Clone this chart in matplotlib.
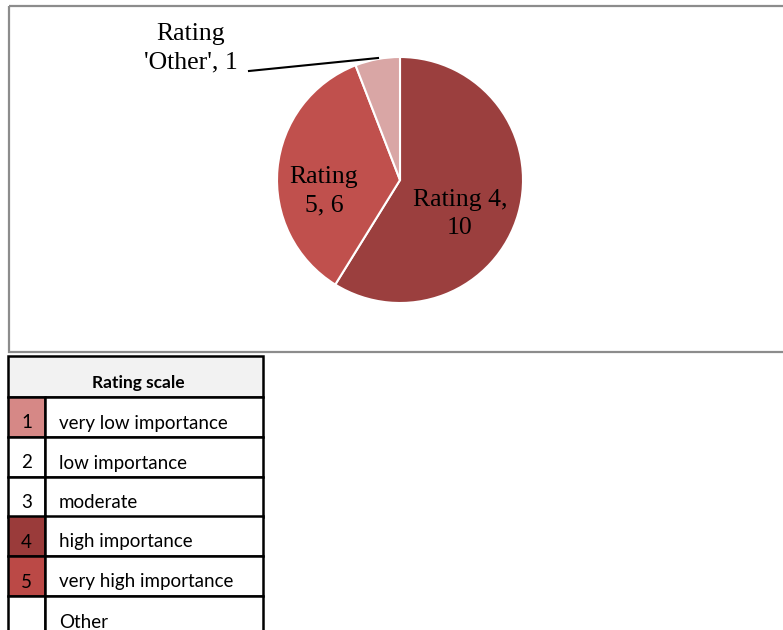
import matplotlib.pyplot as plt
from matplotlib.patches import Rectangle

# pie data
labels = ["Rating 4,\n10", "Rating\n5, 6", "Rating\n'Other', 1"]
values = [10, 6, 1]
colors = ["#9B3F3E", "#C0504D", "#D9A6A5"]

# rating scale table
scale_nums = ["1", "2", "3", "4", "5", ""]
scale_text = ["very low importance", "low importance", "moderate",
              "high importance", "very high importance", "Other"]
scale_fill = ["#D68886", "white", "white", "#9A3B3A", "#BB4946", "white"]

W, H = 783, 630
fig = plt.figure(figsize=(W / 100, H / 100), dpi=100)

# background axes in pixel coordinates
bg = fig.add_axes([0, 0, 1, 1])
bg.set_xlim(0, W)
bg.set_ylim(H, 0)
bg.axis("off")

# chart frame
bg.add_patch(Rectangle((9, 6), 790, 346, fill=False, edgecolor="#8C8C8C", lw=1.6))

# table
x0, x1, x2 = 8, 45, 263
bg.add_patch(Rectangle((x0, 356), x2 - x0, 41, facecolor="#F2F2F2", edgecolor="black", lw=1.8))
bg.text((x0 + x2) / 2 + 3, 383, "Rating scale", ha="center", va="center",
        fontsize=12.5, fontweight="bold", family="Lato")
tops = [397, 437, 477, 516, 556, 596]
for i, top in enumerate(tops):
    h = 40 if i < 5 else 50
    bg.add_patch(Rectangle((x0, top), x1 - x0, h, facecolor=scale_fill[i], edgecolor="black", lw=1.8))
    bg.add_patch(Rectangle((x1, top), x2 - x1, h, facecolor="white", edgecolor="black", lw=1.8))
    bg.text((x0 + x1) / 2, top + 26, scale_nums[i], ha="center", va="center", fontsize=13.5, family="Lato")
    bg.text(x1 + 14, top + 26, scale_text[i], ha="left", va="center", fontsize=13.5, family="Lato")

# pie
cx, cy, r = 400, 180, 123
ax = fig.add_axes([(cx - r) / W, (H - cy - r) / H, 2 * r / W, 2 * r / H])
ax.pie(values, colors=colors, startangle=90, counterclock=False, radius=1,
       wedgeprops=dict(edgecolor="white", linewidth=1.5))
ax.set_xlim(-1, 1)
ax.set_ylim(-1, 1)
ax.set_aspect("equal")
ax.axis("off")

def px(x, y):
    return ((x - cx) / r, (cy - y) / r)

serif = "Liberation Serif"
ax.text(*px(460, 214), labels[0], ha="center", va="center", fontsize=18.5, family=serif, linespacing=1.4)
ax.text(*px(324, 191), labels[1], ha="center", va="center", fontsize=18.5, family=serif, linespacing=1.4)
ax.text(*px(191, 48), labels[2], ha="center", va="center", fontsize=18.5, family=serif,
        linespacing=1.4, clip_on=False)
ax.plot([px(249, 71)[0], px(378, 58)[0]], [px(249, 71)[1], px(378, 58)[1]],
        color="black", lw=1.5, clip_on=False)

fig.savefig("out.png", dpi=100)
